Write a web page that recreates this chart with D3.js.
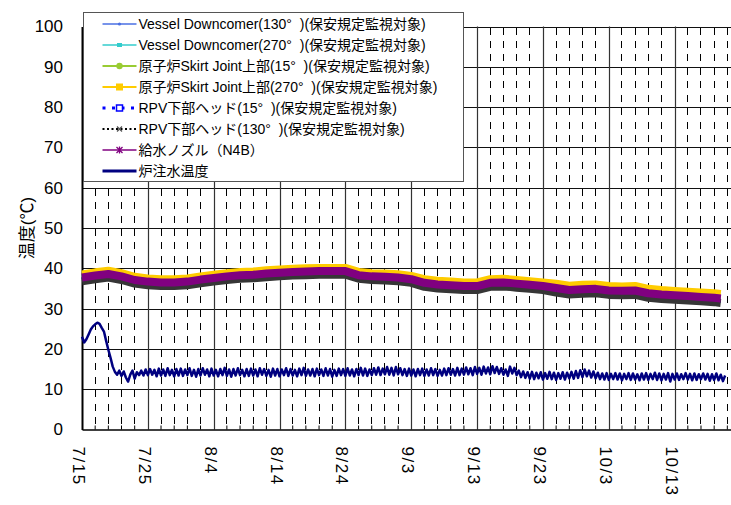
<!DOCTYPE html>
<html>
<head>
<meta charset="utf-8">
<script src="https://cdn.jsdelivr.net/npm/d3@7/dist/d3.min.js"></script>
<style>
  body { margin: 0; background: #fff; }
  svg { display: block; font-family: "Liberation Sans", Arial, "Noto Sans CJK JP", sans-serif; }
</style>
</head>
<body>
<div id="chart"></div>
<script>
// band series are read every 2 days
const bandDates = ['7/15','7/17','7/19','7/21','7/23','7/25','7/27','7/29','7/31','8/2',
  '8/4','8/6','8/8','8/10','8/12','8/14','8/16','8/18','8/20','8/22',
  '8/24','8/26','8/28','8/30','9/1','9/3','9/5','9/7','9/9','9/11',
  '9/13','9/15','9/17','9/19','9/21','9/23','9/25','9/27','9/29','10/1',
  '10/3','10/5','10/7','10/9','10/11','10/13','10/15','10/17','10/19','10/20'];

const dc130 = [37.3,37.8,38.2,37.6,36.7,36.3,36.1,36.1,36.3,36.8,37.2,37.6,37.9,38.0,38.3,38.5,38.7,38.8,38.9,38.9,
  38.9,37.9,37.6,37.5,37.3,36.9,36.0,35.6,35.4,35.2,35.2,36.0,36.1,35.8,35.5,35.2,34.7,34.2,34.4,34.5,
  34.1,34.0,34.1,33.4,33.1,32.9,32.7,32.5,32.3,32.1];
const dc270 = [37.9,38.4,38.8,38.2,37.3,36.9,36.7,36.7,36.9,37.4,37.8,38.2,38.5,38.6,38.9,39.1,39.3,39.4,39.5,39.5,
  39.5,38.5,38.2,38.1,37.9,37.5,36.6,36.2,36.0,35.8,35.8,36.6,36.7,36.4,36.1,35.8,35.3,34.8,35.0,35.1,
  34.7,34.6,34.7,34.0,33.7,33.5,33.3,33.1,32.9,32.7];
const skirt15 = [38.2,38.7,39.1,38.5,37.6,37.2,37.0,37.0,37.2,37.7,38.1,38.5,38.8,38.9,39.2,39.4,39.6,39.7,39.8,39.8,
  39.8,38.8,38.5,38.4,38.2,37.8,36.9,36.5,36.3,36.1,36.1,36.9,37.0,36.7,36.4,36.1,35.6,35.1,35.3,35.4,
  35.0,34.9,35.0,34.3,34.0,33.8,33.6,33.4,33.2,33.0];
const skirt270 = [38.5,39.0,39.4,38.8,37.9,37.5,37.3,37.3,37.5,38.0,38.4,38.8,39.1,39.2,39.5,39.7,39.9,40.0,40.1,40.1,
  40.1,39.1,38.8,38.7,38.5,38.1,37.3,36.9,36.7,36.5,36.5,37.3,37.4,37.1,36.8,36.5,36.2,35.7,35.9,36.0,
  35.6,35.5,35.6,34.9,34.6,34.4,34.2,34.0,33.8,33.6];
const rpv15 = [37.1,37.6,38.0,37.4,36.5,36.1,35.9,35.9,36.1,36.6,37.0,37.4,37.7,37.8,38.1,38.3,38.5,38.6,38.7,38.7,
  38.7,37.7,37.4,37.3,37.1,36.7,35.8,35.4,35.2,35.0,35.0,35.8,35.9,35.6,35.3,35.0,34.5,34.0,34.2,34.3,
  33.9,33.8,33.9,33.2,32.9,32.7,32.5,32.3,32.1,31.9];
const rpv130 = [36.8,37.3,37.7,37.1,36.2,35.8,35.6,35.6,35.8,36.3,36.7,37.1,37.4,37.5,37.8,38.0,38.2,38.3,38.4,38.4,
  38.4,37.4,37.1,37.0,36.8,36.4,35.4,35.0,34.8,34.6,34.6,35.4,35.5,35.2,34.9,34.6,34.0,33.5,33.7,33.8,
  33.4,33.3,33.4,32.7,32.4,32.2,32.0,31.8,31.6,31.4];
const nozzleN4B = [37.7,38.2,38.6,38.0,37.1,36.7,36.5,36.5,36.7,37.2,37.6,38.0,38.3,38.4,38.7,38.9,39.1,39.2,39.3,39.3,
  39.3,38.3,38.0,37.9,37.7,37.3,36.4,36.0,35.8,35.6,35.6,36.4,36.5,36.2,35.9,35.6,35.1,34.6,34.8,34.9,
  34.5,34.4,34.5,33.8,33.5,33.3,33.1,32.9,32.7,32.5];

// injection water temperature, one reading every 8 hours from 7/15 0:00
const injStart = '7/15';
const injStepHours = 8;
const injection = [
  23.0,21.6,22.4,23.6,24.8,25.6,26.1,26.5,26.2,25.2,24.3,22.0,19.8,17.8,15.6,
  14.3,13.6,14.6,13.3,14.4,12.9,11.9,13.6,14.6,12.6,14.2,13.5,14.6,13.4,14.9,
  13.5,15.0,13.6,14.8,13.2,15.1,13.4,14.9,13.3,15.2,13.5,14.8,13.2,15.0,13.4,
  15.1,13.3,14.9,13.5,15.2,13.3,14.8,13.1,15.0,13.4,15.2,13.6,14.9,13.2,15.1,
  13.4,14.8,13.2,15.0,13.5,15.3,13.3,14.9,13.1,15.0,13.4,15.2,13.5,14.8,13.2,
  15.0,13.3,15.1,13.4,14.9,13.2,15.2,13.6,15.0,13.3,14.8,13.1,15.1,13.4,15.0,
  13.2,14.9,13.5,15.2,13.3,15.0,13.4,14.8,13.2,15.1,13.5,15.3,13.3,14.9,13.4,
  15.0,13.2,15.1,13.5,14.9,13.3,15.2,13.4,15.0,13.1,14.8,13.3,15.1,13.5,15.0,
  13.3,15.2,13.4,14.9,13.2,15.0,13.5,15.3,13.4,15.1,13.3,14.9,13.5,15.2,13.6,
  15.4,13.5,15.1,13.7,15.5,13.6,15.3,13.4,15.5,13.7,15.2,13.5,15.0,13.3,15.1,
  13.4,14.9,13.2,15.0,13.5,15.1,13.3,14.9,13.4,15.2,13.5,15.0,13.3,14.8,13.4,
  15.1,13.5,15.2,13.6,15.0,13.4,15.3,13.5,15.1,13.6,15.4,13.7,15.2,13.5,15.5,
  13.8,15.3,13.6,15.6,13.9,15.4,13.7,15.7,14.0,15.5,13.8,15.2,13.6,14.9,13.3,
  15.6,13.9,15.3,13.5,14.6,13.0,14.4,12.8,14.2,12.6,14.3,12.5,14.1,12.7,14.2,
  12.4,14.0,12.6,14.3,12.5,14.1,12.3,14.0,12.6,14.2,12.4,14.1,12.7,14.3,12.6,
  14.5,12.8,14.7,13.0,14.9,13.2,14.6,12.9,14.4,12.7,14.1,12.5,13.9,12.4,14.0,
  12.3,13.8,12.5,14.0,12.4,13.9,12.2,13.8,12.5,14.0,12.3,13.9,12.4,13.7,12.2,
  13.9,12.4,14.0,12.3,13.8,12.5,14.1,12.3,13.9,12.2,13.8,12.4,14.0,11.9,13.8,
  12.4,13.9,12.3,13.7,12.5,14.0,12.4,13.8,12.2,13.9,12.3,13.7,12.5,13.9,12.4,
  13.8,12.1,13.7,12.3,13.9,12.2,13.6,12.0,13.4
];

const yTicks = [0,10,20,30,40,50,60,70,80,90,100];
const xTickLabels = ['7/15','7/25','8/4','8/14','8/24','9/3','9/13','9/23','10/3','10/13','10/23'];
const xDomain = ['7/15','10/25'];

const seriesNames = [
  'Vessel Downcomer(130°\u00a0\u00a0)(保安規定監視対象)',
  'Vessel Downcomer(270°\u00a0\u00a0)(保安規定監視対象)',
  '原子炉Skirt Joint上部(15°\u00a0\u00a0)(保安規定監視対象)',
  '原子炉Skirt Joint上部(270°\u00a0\u00a0)(保安規定監視対象)',
  'RPV下部ヘッド(15°\u00a0\u00a0)(保安規定監視対象)',
  'RPV下部ヘッド(130°\u00a0\u00a0)(保安規定監視対象)',
  '給水ノズル（N4B）',
  '炉注水温度'
];

const parse = s => d3.timeParse('%Y/%m/%d')('2012/' + s);

const series = [
  {values: dc130,     color: '#4a6fe3', width: 4, legend: {w: 1.5, mark: 'dot'}},
  {values: dc270,     color: '#33cccc', width: 4, legend: {w: 1.5, mark: 'smallsq'}},
  {values: skirt15,   color: '#99cc33', width: 4, legend: {w: 2,   mark: 'circle'}},
  {values: skirt270,  color: '#ffcc00', width: 8, legend: {w: 2,   mark: 'square'}},
  {values: rpv15,     color: '#0000ff', width: 4, legend: {w: 3,   dash: '3,6.5', mark: 'hollow'}},
  {values: rpv130,    color: '#363636', width: 8, legend: {w: 2,   dash: '2,2.5', mark: 'x', color: '#000'}},
  {values: nozzleN4B, color: '#800080', width: 8, legend: {w: 1.5, mark: 'star'}},
];

const W = 731, H = 505;
const margin = {top: 26.5, left: 82, bottom: 75.5};
const pxPerDay = 6.585;

const svg = d3.select('#chart').append('svg')
  .attr('width', W).attr('height', H);
svg.append('rect').attr('width', W).attr('height', H).attr('fill', '#fff');

const x0 = parse(xDomain[0]), x1 = parse(xDomain[1]);
const x = d3.scaleTime()
  .domain([x0, x1])
  .range([margin.left, margin.left + d3.timeDay.count(x0, x1) * pxPerDay]);
const y = d3.scaleLinear().domain([0, 100]).range([H - margin.bottom, margin.top]);

const plotRight = x.range()[1];

// minor dashed verticals every 2 days
const minor = d3.timeDay.range(x0, x1, 1).filter((d, i) => i % 2 === 0 && i % 10 !== 0);
svg.append('g').selectAll('line').data(minor).join('line')
  .attr('x1', d => x(d)).attr('x2', d => x(d))
  .attr('y1', y(100)).attr('y2', y(0))
  .attr('stroke', '#000').attr('stroke-width', 1)
  .attr('stroke-dasharray', '7,6.43').attr('stroke-dashoffset', -1)
  .attr('shape-rendering', 'crispEdges');

// horizontal gridlines
svg.append('g').selectAll('line').data(yTicks.slice(1)).join('line')
  .attr('x1', margin.left).attr('x2', plotRight)
  .attr('y1', d => Math.round(y(d)) + 0.5).attr('y2', d => Math.round(y(d)) + 0.5)
  .attr('stroke', '#111').attr('stroke-width', 1);

// major verticals
const majors = xTickLabels.map(parse);
svg.append('g').selectAll('line').data(majors.slice(1)).join('line')
  .attr('x1', d => Math.round(x(d)) + 0.5).attr('x2', d => Math.round(x(d)) + 0.5)
  .attr('y1', y(100)).attr('y2', y(0))
  .attr('stroke', '#333').attr('stroke-width', 1.2);

// axes
const yAxis = d3.axisLeft(y).tickValues(yTicks).tickSize(0).tickPadding(19);
const gy = svg.append('g').attr('transform', `translate(${margin.left},0)`).call(yAxis);
gy.select('.domain').attr('stroke', '#000').attr('stroke-width', 2);
gy.selectAll('text').attr('font-size', 17).attr('fill', '#000');

const xAxis = d3.axisBottom(x).tickValues(majors).tickSize(0).tickFormat(d3.timeFormat('%-m/%-d'));
const gx = svg.append('g').attr('transform', `translate(0,${y(0)})`).call(xAxis);
gx.select('.domain').attr('stroke', '#000').attr('stroke-width', 1.5);
gx.selectAll('text')
  .attr('font-size', 17).attr('fill', '#000')
  .attr('text-anchor', 'start').attr('dy', null).attr('y', 0)
  .attr('dominant-baseline', 'central')
  .attr('letter-spacing', 1.5)
  .attr('transform', 'translate(-4,17) rotate(90)');

// small ticks on x-axis every 2 days
svg.append('g').selectAll('line').data(minor).join('line')
  .attr('x1', d => x(d)).attr('x2', d => x(d))
  .attr('y1', y(0)).attr('y2', y(0) - 4)
  .attr('stroke', '#000');

// y title
svg.append('text')
  .attr('transform', `translate(27,${y(50)}) rotate(-90)`)
  .attr('text-anchor', 'middle').attr('dominant-baseline', 'central')
  .attr('font-size', 17)
  .text('温度(℃)');

// data lines
const bandX = bandDates.map(parse);
const line = d3.line().x(d => x(d[0])).y(d => y(d[1]));
const plot = svg.append('g');
series.forEach(s => {
  plot.append('path')
    .datum(bandX.map((d, i) => [d, s.values[i]]))
    .attr('d', line)
    .attr('fill', 'none')
    .attr('stroke', s.color)
    .attr('stroke-width', s.width)
    .attr('stroke-linejoin', 'round');
});

const injX = injection.map((v, i) => [d3.timeHour.offset(parse(injStart), i * injStepHours), v]);
plot.append('path')
  .datum(injX)
  .attr('d', line)
  .attr('fill', 'none')
  .attr('stroke', '#000080')
  .attr('stroke-width', 2.5)
  .attr('stroke-linejoin', 'round');

// legend
const legend = svg.append('g').attr('transform', 'translate(83.5,12.5)');
legend.append('rect')
  .attr('width', 380).attr('height', 169)
  .attr('fill', '#fff').attr('stroke', '#555').attr('stroke-width', 1);

const legendItems = series.map(s => ({color: s.legend.color || s.color, ...s.legend}))
  .concat([{color: '#000080', w: 3, mark: null}]);

const row = legend.selectAll('g.item').data(legendItems).join('g')
  .attr('transform', (d, i) => `translate(0,${11.5 + i * 21})`);

row.append('line')
  .attr('x1', 19).attr('x2', 53)
  .attr('stroke', d => d.color)
  .attr('stroke-width', d => d.w)
  .attr('stroke-dasharray', d => d.dash || null);

row.each(function(d) {
  const g = d3.select(this);
  const cx = 36;
  if (d.mark === 'dot') g.append('circle').attr('cx', cx).attr('r', 1.6).attr('fill', d.color);
  if (d.mark === 'smallsq') g.append('rect').attr('x', cx - 2.5).attr('y', -2).attr('width', 5).attr('height', 4).attr('fill', d.color);
  if (d.mark === 'circle') g.append('circle').attr('cx', cx).attr('r', 3.2).attr('fill', d.color);
  if (d.mark === 'square') g.append('rect').attr('x', cx - 3.5).attr('y', -3.5).attr('width', 7).attr('height', 7).attr('fill', d.color);
  if (d.mark === 'hollow') g.append('rect').attr('x', cx - 3).attr('y', -3).attr('width', 6).attr('height', 6)
    .attr('fill', '#fff').attr('stroke', d.color).attr('stroke-width', 1.5);
  if (d.mark === 'x') g.append('path').attr('d', `M${cx-2.5},-2.5L${cx+2.5},2.5M${cx-2.5},2.5L${cx+2.5},-2.5`)
    .attr('stroke', '#555').attr('stroke-width', 1.3);
  if (d.mark === 'star') g.append('path')
    .attr('d', `M${cx-3},-3L${cx+3},3M${cx-3},3L${cx+3},-3M${cx},-3.5L${cx},3.5`)
    .attr('stroke', d.color).attr('stroke-width', 1.3);
});

row.append('text')
  .attr('x', 55).attr('dominant-baseline', 'central')
  .attr('font-size', 14)
  .style('white-space', 'pre')
  .text((d, i) => seriesNames[i]);
</script>
</body>
</html>
